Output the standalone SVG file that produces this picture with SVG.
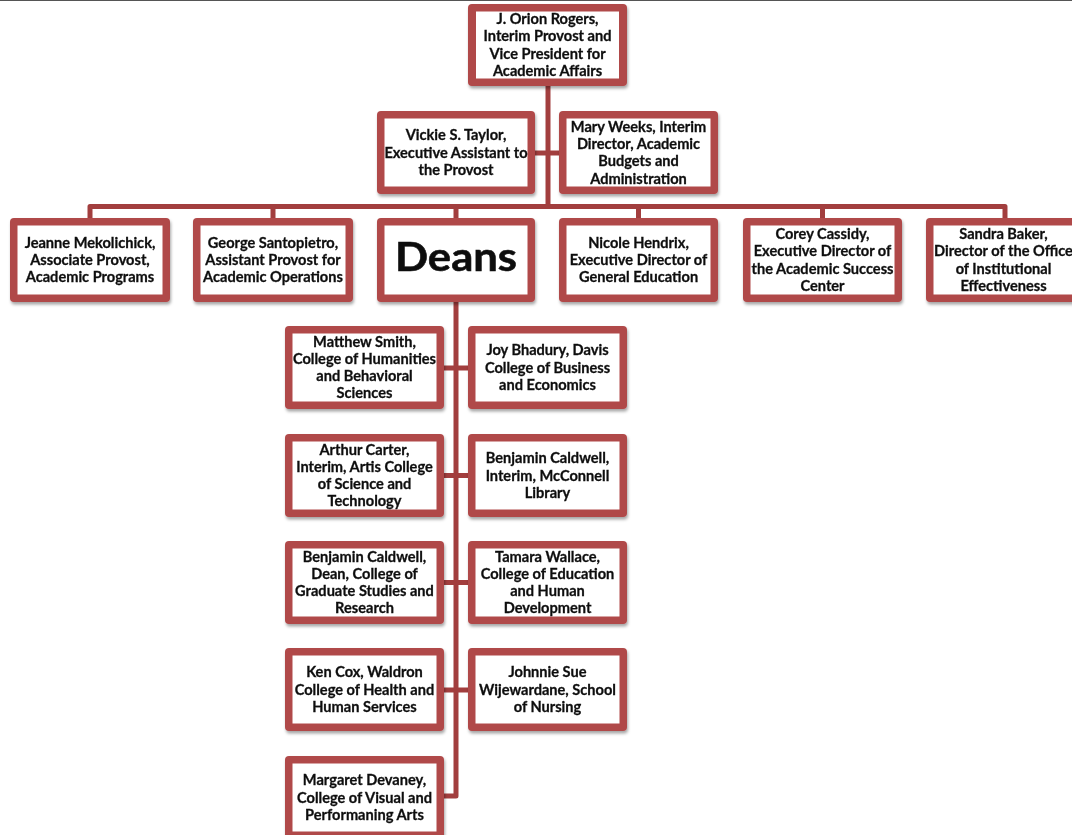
<svg xmlns="http://www.w3.org/2000/svg" width="1072" height="835" viewBox="0 0 1072 835">
<style>
.o{fill:#b04848}
.i{fill:#ffffff}
.t{font-family:Lato,"Open Sans","Liberation Sans",sans-serif;font-weight:bold;font-size:14.6px;fill:#111;stroke:#111;stroke-width:0.3px;text-anchor:middle}
.big{font-family:Lato,"Open Sans","Liberation Sans",sans-serif;font-weight:bold;font-size:41px;fill:#111;stroke:#111;stroke-width:0.6px;text-anchor:middle}
.c{fill:none;stroke:#a23e3e;stroke-width:5;stroke-linejoin:round}
</style>
<defs>
<filter id="sh" x="-10%" y="-10%" width="125%" height="130%">
<feDropShadow dx="1" dy="2.5" stdDeviation="1.6" flood-color="#000" flood-opacity="0.35"/>
</filter>
</defs>
<rect width="1072" height="835" fill="#fff"/>
<line x1="0" y1="0.5" x2="1072" y2="0.5" stroke="#555" stroke-width="1"/>
<g id="connectors">
<path class="c" d="M548 86V206.5"/>
<path class="c" d="M535 153H559"/>
<path class="c" d="M90 218V206.5H1005V218"/>
<path class="c" d="M273 206.5V218M456 206.5V218M638.5 206.5V218M822.5 206.5V218"/>
<path class="c" d="M456 302V796H444" stroke-width="5.5"/>
<path class="c" d="M444 368H468M444 475.5H468M444 582.5H468M444 690H468"/>
</g>
<g id="provost" filter="url(#sh)">
<rect class="o" x="468" y="4" width="159" height="82" rx="4"/>
<rect class="i" x="476" y="11.5" width="143" height="67"/>
<text class="t"><tspan x="547.5" y="24">J. Orion Rogers,</tspan><tspan x="547.5" y="41.3">Interim Provost and</tspan><tspan x="547.5" y="58.6">Vice President for</tspan><tspan x="547.5" y="75.9">Academic Affairs</tspan></text>
</g>
<g id="taylor" filter="url(#sh)">
<rect class="o" x="377" y="111" width="158" height="83" rx="4"/>
<rect class="i" x="384.5" y="118.5" width="143" height="68"/>
<text class="t"><tspan x="456" y="140.2">Vickie S. Taylor,</tspan><tspan x="456" y="157.5">Executive Assistant to</tspan><tspan x="456" y="174.8">the Provost</tspan></text>
</g>
<g id="weeks" filter="url(#sh)">
<rect class="o" x="559" y="111" width="159" height="83" rx="4"/>
<rect class="i" x="566.5" y="118.5" width="144" height="68"/>
<text class="t"><tspan x="638.5" y="131.6">Mary Weeks, Interim</tspan><tspan x="638.5" y="148.9">Director, Academic</tspan><tspan x="638.5" y="166.2">Budgets and</tspan><tspan x="638.5" y="183.5">Administration</tspan></text>
</g>
<g id="mekolichick" filter="url(#sh)">
<rect class="o" x="10" y="218" width="160" height="84" rx="4"/>
<rect class="i" x="17.5" y="225.5" width="145" height="69"/>
<text class="t"><tspan x="90" y="247.7">Jeanne Mekolichick,</tspan><tspan x="90" y="265">Associate Provost,</tspan><tspan x="90" y="282.3">Academic Programs</tspan></text>
</g>
<g id="santopietro" filter="url(#sh)">
<rect class="o" x="193" y="218" width="160" height="84" rx="4"/>
<rect class="i" x="200.5" y="225.5" width="145" height="69"/>
<text class="t"><tspan x="273" y="247.7">George Santopietro,</tspan><tspan x="273" y="265">Assistant Provost for</tspan><tspan x="273" y="282.3">Academic Operations</tspan></text>
</g>
<g id="deans" filter="url(#sh)">
<rect class="o" x="377" y="218" width="158" height="84" rx="4"/>
<rect class="i" x="384.5" y="225.5" width="143" height="69"/>
<text class="big" x="456" y="271" textLength="122" lengthAdjust="spacingAndGlyphs">Deans</text>
</g>
<g id="hendrix" filter="url(#sh)">
<rect class="o" x="559" y="218" width="159" height="84" rx="4"/>
<rect class="i" x="566.5" y="225.5" width="144" height="69"/>
<text class="t"><tspan x="638.5" y="247.7">Nicole Hendrix,</tspan><tspan x="638.5" y="265">Executive Director of</tspan><tspan x="638.5" y="282.3">General Education</tspan></text>
</g>
<g id="cassidy" filter="url(#sh)">
<rect class="o" x="743" y="218" width="159" height="84" rx="4"/>
<rect class="i" x="750.5" y="225.5" width="144" height="69"/>
<text class="t"><tspan x="822.5" y="239">Corey Cassidy,</tspan><tspan x="822.5" y="256.3">Executive Director of</tspan><tspan x="822.5" y="273.6">the Academic Success</tspan><tspan x="822.5" y="290.9">Center</tspan></text>
</g>
<g id="baker" filter="url(#sh)">
<rect class="o" x="926" y="218" width="159" height="84" rx="4"/>
<rect class="i" x="933.5" y="225.5" width="144" height="69"/>
<text class="t"><tspan x="1003.5" y="239">Sandra Baker,</tspan><tspan x="1003.5" y="256.3">Director of the Office</tspan><tspan x="1003.5" y="273.6">of Institutional</tspan><tspan x="1003.5" y="290.9">Effectiveness</tspan></text>
</g>
<g id="smith" filter="url(#sh)">
<rect class="o" x="285" y="326" width="159" height="83" rx="4"/>
<rect class="i" x="292.5" y="333.5" width="144" height="68"/>
<text class="t"><tspan x="364.5" y="346.5">Matthew Smith,</tspan><tspan x="364.5" y="363.8">College of Humanities</tspan><tspan x="364.5" y="381.1">and Behavioral</tspan><tspan x="364.5" y="398.4">Sciences</tspan></text>
</g>
<g id="bhadury" filter="url(#sh)">
<rect class="o" x="468" y="326" width="159" height="83" rx="4"/>
<rect class="i" x="475.5" y="333.5" width="144" height="68"/>
<text class="t"><tspan x="547.5" y="355.2">Joy Bhadury, Davis</tspan><tspan x="547.5" y="372.5">College of Business</tspan><tspan x="547.5" y="389.8">and Economics</tspan></text>
</g>
<g id="carter" filter="url(#sh)">
<rect class="o" x="285" y="434" width="159" height="83" rx="4"/>
<rect class="i" x="292.5" y="441.5" width="144" height="68"/>
<text class="t"><tspan x="364.5" y="454.5">Arthur Carter,</tspan><tspan x="364.5" y="471.8">Interim, Artis College</tspan><tspan x="364.5" y="489.1">of Science and</tspan><tspan x="364.5" y="506.4">Technology</tspan></text>
</g>
<g id="caldwell-library" filter="url(#sh)">
<rect class="o" x="468" y="434" width="159" height="83" rx="4"/>
<rect class="i" x="475.5" y="441.5" width="144" height="68"/>
<text class="t"><tspan x="547.5" y="463.2">Benjamin Caldwell,</tspan><tspan x="547.5" y="480.5">Interim, McConnell</tspan><tspan x="547.5" y="497.8">Library</tspan></text>
</g>
<g id="caldwell-graduate" filter="url(#sh)">
<rect class="o" x="285" y="541" width="159" height="83" rx="4"/>
<rect class="i" x="292.5" y="548.5" width="144" height="68"/>
<text class="t"><tspan x="364.5" y="561.5">Benjamin Caldwell,</tspan><tspan x="364.5" y="578.8">Dean, College of</tspan><tspan x="364.5" y="596.1">Graduate Studies and</tspan><tspan x="364.5" y="613.4">Research</tspan></text>
</g>
<g id="wallace" filter="url(#sh)">
<rect class="o" x="468" y="541" width="159" height="83" rx="4"/>
<rect class="i" x="475.5" y="548.5" width="144" height="68"/>
<text class="t"><tspan x="547.5" y="561.5">Tamara Wallace,</tspan><tspan x="547.5" y="578.8">College of Education</tspan><tspan x="547.5" y="596.1">and Human</tspan><tspan x="547.5" y="613.4">Development</tspan></text>
</g>
<g id="cox" filter="url(#sh)">
<rect class="o" x="285" y="648" width="159" height="83" rx="4"/>
<rect class="i" x="292.5" y="655.5" width="144" height="68"/>
<text class="t"><tspan x="364.5" y="677.2">Ken Cox, Waldron</tspan><tspan x="364.5" y="694.5">College of Health and</tspan><tspan x="364.5" y="711.8">Human Services</tspan></text>
</g>
<g id="wijewardane" filter="url(#sh)">
<rect class="o" x="468" y="648" width="159" height="83" rx="4"/>
<rect class="i" x="475.5" y="655.5" width="144" height="68"/>
<text class="t"><tspan x="547.5" y="677.2">Johnnie Sue</tspan><tspan x="547.5" y="694.5">Wijewardane, School</tspan><tspan x="547.5" y="711.8">of Nursing</tspan></text>
</g>
<g id="devaney" filter="url(#sh)">
<rect class="o" x="285" y="756" width="159" height="83" rx="4"/>
<rect class="i" x="292.5" y="763.5" width="144" height="68"/>
<text class="t"><tspan x="364.5" y="785.2">Margaret Devaney,</tspan><tspan x="364.5" y="802.5">College of Visual and</tspan><tspan x="364.5" y="819.8">Performaning Arts</tspan></text>
</g>
</svg>
